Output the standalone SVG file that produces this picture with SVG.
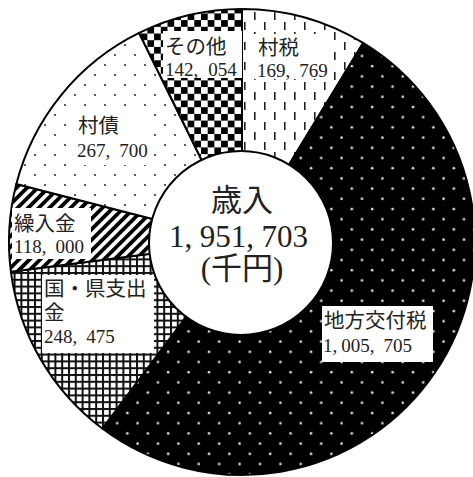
<svg xmlns="http://www.w3.org/2000/svg" width="473" height="477" viewBox="0 0 473 477">
<defs>
<pattern id="pVdash" width="20" height="20" patternUnits="userSpaceOnUse">
<rect width="20" height="20" fill="#fff"/>
<rect x="4" y="2" width="1.6" height="8" fill="#222"/>
<rect x="14" y="12" width="1.6" height="8" fill="#222"/>
</pattern>
<pattern id="pBlackDots" width="20.4" height="20.4" patternUnits="userSpaceOnUse">
<rect width="20.4" height="20.4" fill="#000"/>
<circle cx="5" cy="5" r="1.3" fill="#ddd"/>
<circle cx="15.2" cy="15.2" r="1.3" fill="#ddd"/>
</pattern>
<pattern id="pGrid" width="6.8" height="6.8" patternUnits="userSpaceOnUse">
<rect width="6.8" height="6.8" fill="#fff"/>
<rect width="6.8" height="2" fill="#111"/>
<rect width="2" height="6.8" fill="#111"/>
</pattern>
<pattern id="pStripe" width="7.5" height="7.5" patternUnits="userSpaceOnUse" patternTransform="rotate(45)">
<rect width="7.5" height="7.5" fill="#fff"/>
<rect width="3.8" height="7.5" fill="#000"/>
</pattern>
<pattern id="pDots" width="20" height="20" patternUnits="userSpaceOnUse">
<rect width="20" height="20" fill="#fff"/>
<circle cx="5" cy="5" r="1.1" fill="#333"/>
<circle cx="15" cy="15" r="1.1" fill="#333"/>
</pattern>
<pattern id="pChecker" width="13.4" height="13.4" patternUnits="userSpaceOnUse">
<rect width="13.4" height="13.4" fill="#fff"/>
<rect width="6.7" height="6.7" fill="#000"/>
<rect x="6.7" y="6.7" width="6.7" height="6.7" fill="#000"/>
</pattern>
</defs>
<style>
.wedge{stroke:#000;stroke-width:2;stroke-linejoin:round}
.box{fill:#fff}
.jp{font-family:"Liberation Serif","Noto Sans CJK JP",serif;font-size:20.5px;fill:#222}
.num{font-family:"Liberation Serif","Noto Sans CJK JP",serif;font-size:19px;fill:#222}
.cjp{font-family:"Liberation Serif","Noto Sans CJK JP",serif;font-size:31px;fill:#222}
.cnum{font-family:"Liberation Serif","Noto Sans CJK JP",serif;font-size:31px;fill:#222}
</style>
<g id="wedges">
<path id="w-sonsei" class="wedge" fill="url(#pVdash)" d="M242,242 L242,9 A233,233 0 0,1 363.1,42.94 Z"/>
<path id="w-chiho" class="wedge" fill="url(#pBlackDots)" d="M242,242 L363.1,42.94 A233,233 0 1,1 102.33,428.5 Z"/>
<path id="w-kokken" class="wedge" fill="url(#pGrid)" d="M242,242 L102.33,428.5 A233,233 0 0,1 10.92,271.81 Z"/>
<path id="w-kurinyu" class="wedge" fill="url(#pStripe)" d="M242,242 L10.92,271.81 A233,233 0 0,1 16.34,183.98 Z"/>
<path id="w-sonsai" class="wedge" fill="url(#pDots)" d="M242,242 L16.34,183.98 A233,233 0 0,1 139.13,32.94 Z"/>
<path id="w-sonota" class="wedge" fill="url(#pChecker)" d="M242,242 L139.13,32.94 A233,233 0 0,1 242,9 Z"/>
</g>
<g id="center">
<circle cx="241" cy="243" r="92" fill="#fff" stroke="#000" stroke-width="2"/>
<text class="cjp" x="242" y="211" text-anchor="middle">歳入</text>
<text class="cnum" x="169" y="247">1,<tspan dx="7.5">951,</tspan><tspan dx="7.5">703</tspan></text>
<text class="cjp" x="242" y="279" text-anchor="middle">(千円)</text>
</g>
<g id="label-sonota">
<rect class="box" x="163" y="31" width="79" height="47"/>
<text class="jp" x="165" y="54">その他</text>
<text class="num" x="165" y="76">142,<tspan dx="10">054</tspan></text>
</g>
<g id="label-sonsei">
<rect class="box" x="254" y="34" width="79" height="45"/>
<text class="jp" x="258" y="55">村税</text>
<text class="num" x="257" y="77">169,<tspan dx="9">769</tspan></text>
</g>
<g id="label-sonsai">
<rect class="box" x="74" y="108" width="78" height="57"/>
<text class="jp" x="78" y="133">村債</text>
<text class="num" x="77" y="157">267,<tspan dx="9">700</tspan></text>
</g>
<g id="label-kurinyu">
<rect class="box" x="12" y="208" width="79" height="51"/>
<text class="jp" x="14" y="231">繰入金</text>
<text class="num" x="14" y="253">118,<tspan dx="9">000</tspan></text>
</g>
<g id="label-kokken">
<rect class="box" x="42" y="275" width="112" height="78"/>
<text class="jp" x="44" y="296">国・県支出</text>
<text class="jp" x="44" y="320">金</text>
<text class="num" x="44" y="343">248,<tspan dx="9">475</tspan></text>
</g>
<g id="label-chiho">
<rect class="box" x="322" y="306" width="111" height="56"/>
<text class="jp" x="324" y="328">地方交付税</text>
<text class="num" x="323" y="352">1,<tspan dx="4">005,</tspan><tspan dx="9">705</tspan></text>
</g>
</svg>
